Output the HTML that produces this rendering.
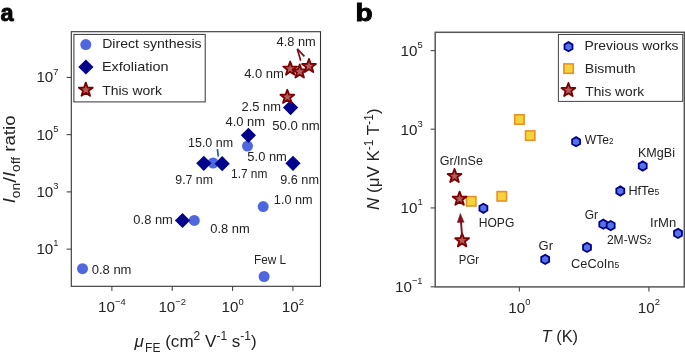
<!DOCTYPE html>
<html><head><meta charset="utf-8"><style>
html,body{margin:0;padding:0;background:#fff;overflow:hidden;}
svg{display:block;font-family:"Liberation Sans",sans-serif;}
</style></head><body>
<svg width="685" height="356" viewBox="0 0 685 356">
<rect width="685" height="356" fill="#fff"/>
<g opacity="0.995"><text transform="translate(0.4,20.8) scale(0.96,1)" font-size="24.5" font-weight="bold" fill="#000" stroke="#000" stroke-width="0.9">a</text>
<text transform="translate(355.4,20.6) scale(1.17,1)" font-size="24" font-weight="bold" fill="#000" stroke="#000" stroke-width="0.9">b</text>
<rect x="71.3" y="31.7" width="249.20" height="254.60" fill="none" stroke="#333" stroke-width="1.1"/>
<line x1="66.7" y1="77.4" x2="71.3" y2="77.4" stroke="#333" stroke-width="1"/>
<text x="58.5" y="82.30" font-size="15.2" text-anchor="end" fill="#222">10<tspan dy="-7.8" font-size="9.4">7</tspan></text>
<line x1="66.7" y1="134.65" x2="71.3" y2="134.65" stroke="#333" stroke-width="1"/>
<text x="58.5" y="139.55" font-size="15.2" text-anchor="end" fill="#222">10<tspan dy="-7.8" font-size="9.4">5</tspan></text>
<line x1="66.7" y1="191.9" x2="71.3" y2="191.9" stroke="#333" stroke-width="1"/>
<text x="58.5" y="196.80" font-size="15.2" text-anchor="end" fill="#222">10<tspan dy="-7.8" font-size="9.4">3</tspan></text>
<line x1="66.7" y1="249.15" x2="71.3" y2="249.15" stroke="#333" stroke-width="1"/>
<text x="58.5" y="254.05" font-size="15.2" text-anchor="end" fill="#222">10<tspan dy="-7.8" font-size="9.4">1</tspan></text>
<line x1="111.9" y1="286.3" x2="111.9" y2="290.90000000000003" stroke="#333" stroke-width="1"/>
<text x="111.9" y="312.4" font-size="15.2" text-anchor="middle" fill="#222">10<tspan dy="-7.8" font-size="9.4">−4</tspan></text>
<line x1="172.2" y1="286.3" x2="172.2" y2="290.90000000000003" stroke="#333" stroke-width="1"/>
<text x="172.2" y="312.4" font-size="15.2" text-anchor="middle" fill="#222">10<tspan dy="-7.8" font-size="9.4">−2</tspan></text>
<line x1="232.6" y1="286.3" x2="232.6" y2="290.90000000000003" stroke="#333" stroke-width="1"/>
<text x="232.6" y="312.4" font-size="15.2" text-anchor="middle" fill="#222">10<tspan dy="-7.8" font-size="9.4">0</tspan></text>
<line x1="292.9" y1="286.3" x2="292.9" y2="290.90000000000003" stroke="#333" stroke-width="1"/>
<text x="292.9" y="312.4" font-size="15.2" text-anchor="middle" fill="#222">10<tspan dy="-7.8" font-size="9.4">2</tspan></text>
<rect x="73.9" y="34.4" width="131.30" height="67.50" fill="#fff" stroke="#333" stroke-width="1"/>
<circle cx="85.8" cy="44.6" r="5.5" fill="#4d66de"/>
<path d="M85.90,59.40 L93.50,67.00 L85.90,74.60 L78.30,67.00 Z" fill="#00008b"/>
<path d="M85.80,82.65 L87.55,87.50 L92.70,87.66 L88.63,90.82 L90.06,95.77 L85.80,92.87 L81.54,95.77 L82.97,90.82 L78.90,87.66 L84.05,87.50 Z" fill="#b45a5a" stroke="#7b0000" stroke-width="1.85" stroke-linejoin="round"/>
<circle cx="82.5" cy="268.7" r="5.5" fill="#4d66de"/>
<circle cx="194.3" cy="220.4" r="5.5" fill="#4d66de"/>
<circle cx="213.1" cy="163.0" r="5.5" fill="#4d66de"/>
<circle cx="247.5" cy="146.1" r="5.5" fill="#4d66de"/>
<circle cx="263.2" cy="206.6" r="5.5" fill="#4d66de"/>
<circle cx="264.1" cy="276.5" r="5.5" fill="#4d66de"/>
<path d="M182.50,212.90 L190.10,220.50 L182.50,228.10 L174.90,220.50 Z" fill="#00008b"/>
<path d="M203.80,155.70 L211.40,163.30 L203.80,170.90 L196.20,163.30 Z" fill="#00008b"/>
<path d="M222.20,156.10 L229.80,163.70 L222.20,171.30 L214.60,163.70 Z" fill="#00008b"/>
<path d="M248.40,127.70 L256.00,135.30 L248.40,142.90 L240.80,135.30 Z" fill="#00008b"/>
<path d="M290.60,100.00 L298.20,107.60 L290.60,115.20 L283.00,107.60 Z" fill="#00008b"/>
<path d="M293.00,155.70 L300.60,163.30 L293.00,170.90 L285.40,163.30 Z" fill="#00008b"/>
<line x1="217.4" y1="149.1" x2="218.3" y2="156.7" stroke="#2a5c9e" stroke-width="1.7"/>
<path d="M287.30,89.75 L289.05,94.60 L294.20,94.76 L290.13,97.92 L291.56,102.87 L287.30,99.97 L283.04,102.87 L284.47,97.92 L280.40,94.76 L285.55,94.60 Z" fill="#b45a5a" stroke="#7b0000" stroke-width="1.85" stroke-linejoin="round"/>
<path d="M290.20,61.55 L291.95,66.40 L297.10,66.56 L293.03,69.72 L294.46,74.67 L290.20,71.77 L285.94,74.67 L287.37,69.72 L283.30,66.56 L288.45,66.40 Z" fill="#b45a5a" stroke="#7b0000" stroke-width="1.85" stroke-linejoin="round"/>
<path d="M299.70,64.45 L301.45,69.30 L306.60,69.46 L302.53,72.62 L303.96,77.57 L299.70,74.67 L295.44,77.57 L296.87,72.62 L292.80,69.46 L297.95,69.30 Z" fill="#b45a5a" stroke="#7b0000" stroke-width="1.85" stroke-linejoin="round"/>
<path d="M309.00,58.95 L310.75,63.80 L315.90,63.96 L311.83,67.12 L313.26,72.07 L309.00,69.17 L304.74,72.07 L306.17,67.12 L302.10,63.96 L307.25,63.80 Z" fill="#b45a5a" stroke="#7b0000" stroke-width="1.85" stroke-linejoin="round"/>
<polyline points="300.7,60.8 297.3,48.9 304.4,56.4" fill="none" stroke="#80101c" stroke-width="1.7"/>
<rect x="435.2" y="32.3" width="249.10" height="254.60" fill="none" stroke="#555" stroke-width="1.5"/>
<line x1="430.59999999999997" y1="50.6" x2="435.2" y2="50.6" stroke="#555" stroke-width="1.2"/>
<text x="422.6" y="55.90" font-size="15.2" text-anchor="end" fill="#222">10<tspan dy="-7.8" font-size="9.4">5</tspan></text>
<line x1="430.59999999999997" y1="129.2" x2="435.2" y2="129.2" stroke="#555" stroke-width="1.2"/>
<text x="422.6" y="134.50" font-size="15.2" text-anchor="end" fill="#222">10<tspan dy="-7.8" font-size="9.4">3</tspan></text>
<line x1="430.59999999999997" y1="207.9" x2="435.2" y2="207.9" stroke="#555" stroke-width="1.2"/>
<text x="422.6" y="213.20" font-size="15.2" text-anchor="end" fill="#222">10<tspan dy="-7.8" font-size="9.4">1</tspan></text>
<line x1="430.59999999999997" y1="286.8" x2="435.2" y2="286.8" stroke="#555" stroke-width="1.2"/>
<text x="422.6" y="292.10" font-size="15.2" text-anchor="end" fill="#222">10<tspan dy="-7.8" font-size="9.4">−1</tspan></text>
<line x1="519.4" y1="286.9" x2="519.4" y2="291.5" stroke="#555" stroke-width="1.2"/>
<text x="519.4" y="312.7" font-size="15.2" text-anchor="middle" fill="#222">10<tspan dy="-7.8" font-size="9.4">0</tspan></text>
<line x1="648.9" y1="286.9" x2="648.9" y2="291.5" stroke="#555" stroke-width="1.2"/>
<text x="648.9" y="312.7" font-size="15.2" text-anchor="middle" fill="#222">10<tspan dy="-7.8" font-size="9.4">2</tspan></text>
<rect x="558.4" y="34.5" width="124.30" height="66.90" fill="#fff" stroke="#444" stroke-width="1"/>
<path d="M568.50,42.10 L572.48,44.40 L572.48,49.00 L568.50,51.30 L564.52,49.00 L564.52,44.40 Z" fill="#5670e6" stroke="#00008a" stroke-width="1.8"/>
<rect x="563.90" y="63.90" width="9.4" height="9.4" fill="#f4d43a" stroke="#ea9026" stroke-width="1.6"/>
<path d="M568.40,82.95 L570.15,87.80 L575.30,87.96 L571.23,91.12 L572.66,96.07 L568.40,93.17 L564.14,96.07 L565.57,91.12 L561.50,87.96 L566.65,87.80 Z" fill="#b45a5a" stroke="#7b0000" stroke-width="1.85" stroke-linejoin="round"/>
<rect x="514.70" y="114.80" width="9.4" height="9.4" fill="#f4d43a" stroke="#ea9026" stroke-width="1.6"/>
<rect x="525.50" y="130.90" width="9.4" height="9.4" fill="#f4d43a" stroke="#ea9026" stroke-width="1.6"/>
<rect x="497.10" y="191.60" width="9.4" height="9.4" fill="#f4d43a" stroke="#ea9026" stroke-width="1.6"/>
<rect x="466.50" y="196.60" width="9.4" height="9.4" fill="#f4d43a" stroke="#ea9026" stroke-width="1.6"/>
<path d="M483.40,203.70 L487.38,206.00 L487.38,210.60 L483.40,212.90 L479.42,210.60 L479.42,206.00 Z" fill="#5670e6" stroke="#00008a" stroke-width="1.8"/>
<path d="M545.20,254.80 L549.18,257.10 L549.18,261.70 L545.20,264.00 L541.22,261.70 L541.22,257.10 Z" fill="#5670e6" stroke="#00008a" stroke-width="1.8"/>
<path d="M576.10,137.10 L580.08,139.40 L580.08,144.00 L576.10,146.30 L572.12,144.00 L572.12,139.40 Z" fill="#5670e6" stroke="#00008a" stroke-width="1.8"/>
<path d="M642.70,161.40 L646.68,163.70 L646.68,168.30 L642.70,170.60 L638.72,168.30 L638.72,163.70 Z" fill="#5670e6" stroke="#00008a" stroke-width="1.8"/>
<path d="M620.30,186.40 L624.28,188.70 L624.28,193.30 L620.30,195.60 L616.32,193.30 L616.32,188.70 Z" fill="#5670e6" stroke="#00008a" stroke-width="1.8"/>
<path d="M603.30,219.60 L607.28,221.90 L607.28,226.50 L603.30,228.80 L599.32,226.50 L599.32,221.90 Z" fill="#5670e6" stroke="#00008a" stroke-width="1.8"/>
<path d="M610.70,221.00 L614.68,223.30 L614.68,227.90 L610.70,230.20 L606.72,227.90 L606.72,223.30 Z" fill="#5670e6" stroke="#00008a" stroke-width="1.8"/>
<path d="M587.00,242.80 L590.98,245.10 L590.98,249.70 L587.00,252.00 L583.02,249.70 L583.02,245.10 Z" fill="#5670e6" stroke="#00008a" stroke-width="1.8"/>
<path d="M678.00,228.80 L681.98,231.10 L681.98,235.70 L678.00,238.00 L674.02,235.70 L674.02,231.10 Z" fill="#5670e6" stroke="#00008a" stroke-width="1.8"/>
<path d="M454.50,168.95 L456.25,173.80 L461.40,173.96 L457.33,177.12 L458.76,182.07 L454.50,179.17 L450.24,182.07 L451.67,177.12 L447.60,173.96 L452.75,173.80 Z" fill="#b45a5a" stroke="#7b0000" stroke-width="1.85" stroke-linejoin="round"/>
<path d="M459.60,191.65 L461.35,196.50 L466.50,196.66 L462.43,199.82 L463.86,204.77 L459.60,201.87 L455.34,204.77 L456.77,199.82 L452.70,196.66 L457.85,196.50 Z" fill="#b45a5a" stroke="#7b0000" stroke-width="1.85" stroke-linejoin="round"/>
<path d="M462.10,233.25 L463.85,238.10 L469.00,238.26 L464.93,241.42 L466.36,246.37 L462.10,243.47 L457.84,246.37 L459.27,241.42 L455.20,238.26 L460.35,238.10 Z" fill="#b45a5a" stroke="#7b0000" stroke-width="1.85" stroke-linejoin="round"/>
<line x1="462.0" y1="235.0" x2="460.9" y2="220.5" stroke="#80101c" stroke-width="1.9"/>
<path d="M460.3,213.4 L464.1,222.2 L457.3,222.5 Z" fill="#80101c" stroke="#80101c" stroke-width="0.5" stroke-linejoin="round"/>
<text transform="translate(102.18,48.2) scale(1.1189,1)" font-size="12.6" fill="#222">Direct synthesis</text>
<text transform="translate(101.95,71.4) scale(1.1467,1)" font-size="12.6" fill="#222">Exfoliation</text>
<text transform="translate(102.22,94.9) scale(1.1084,1)" font-size="12.6" fill="#222">This work</text>
<text transform="translate(276.54,45.7) scale(1.0438,1)" font-size="12.3" fill="#222">4.8 nm</text>
<text transform="translate(244.13,77.9) scale(1.0603,1)" font-size="12.3" fill="#222">4.0 nm</text>
<text transform="translate(241.57,111.0) scale(1.0510,1)" font-size="12.3" fill="#222">2.5 nm</text>
<text transform="translate(225.44,125.7) scale(1.0548,1)" font-size="12.3" fill="#222">4.0 nm</text>
<text transform="translate(272.27,130.3) scale(1.0698,1)" font-size="12.3" fill="#222">50.0 nm</text>
<text transform="translate(188.09,147.3) scale(1.0118,1)" font-size="12.3" fill="#222">15.0 nm</text>
<text transform="translate(247.37,160.7) scale(1.0510,1)" font-size="12.3" fill="#222">5.0 nm</text>
<text transform="translate(175.30,183.5) scale(1.0014,1)" font-size="12.3" fill="#222">9.7 nm</text>
<text transform="translate(231.03,177.8) scale(0.9678,1)" font-size="12.3" fill="#222">1.7 nm</text>
<text transform="translate(280.18,183.7) scale(1.0317,1)" font-size="12.3" fill="#222">9.6 nm</text>
<text transform="translate(273.87,203.9) scale(1.0322,1)" font-size="12.3" fill="#222">1.0 nm</text>
<text transform="translate(133.37,224.2) scale(1.0510,1)" font-size="12.3" fill="#222">0.8 nm</text>
<text transform="translate(210.28,233.1) scale(1.0483,1)" font-size="12.3" fill="#222">0.8 nm</text>
<text transform="translate(254.04,264.0) scale(0.9594,1)" font-size="12.3" fill="#222">Few L</text>
<text transform="translate(91.67,273.8) scale(1.0593,1)" font-size="12.3" fill="#222">0.8 nm</text>
<text transform="translate(584.50,50.3) scale(1.1012,1)" font-size="12.6" fill="#222">Previous works</text>
<text transform="translate(584.78,73.4) scale(1.1177,1)" font-size="12.6" fill="#222">Bismuth</text>
<text transform="translate(585.33,95.7) scale(1.0916,1)" font-size="12.6" fill="#222">This work</text>
<text transform="translate(439.69,164.6) scale(1.0293,1)" font-size="12.2" fill="#222">Gr/InSe</text>
<text transform="translate(478.81,227.3) scale(0.9882,1)" font-size="12.2" fill="#222">HOPG</text>
<text transform="translate(458.87,263.8) scale(0.9317,1)" font-size="12.2" fill="#222">PGr</text>
<text transform="translate(538.57,250.0) scale(1.0667,1)" font-size="12.2" fill="#222">Gr</text>
<text transform="translate(584.71,218.7) scale(0.9804,1)" font-size="12.2" fill="#222">Gr</text>
<text transform="translate(650.06,226.7) scale(1.0742,1)" font-size="12.2" fill="#222">IrMn</text>
<text transform="translate(637.97,156.5) scale(1.0294,1)" font-size="12.2" fill="#222">KMgBi</text>
<text transform="translate(584.75,144.3) scale(0.9912,1)" font-size="12.2" fill="#222">WTe<tspan font-size="8.2">2</tspan></text>
<text transform="translate(628.46,194.8) scale(1.0372,1)" font-size="12.2" fill="#222">HfTe<tspan font-size="8.2">5</tspan></text>
<text transform="translate(606.91,244.0) scale(0.9876,1)" font-size="12.2" fill="#222">2M-WS<tspan font-size="8.2">2</tspan></text>
<text transform="translate(571.11,267.8) scale(1.0480,1)" font-size="12.2" fill="#222">CeCoIn<tspan font-size="8.2">5</tspan></text>
<text transform="translate(134.45,346.7) scale(1.0029,1)" font-size="17.0" fill="#222"><tspan font-style="italic">μ</tspan><tspan dx="1.3" dy="5" font-size="12.0">FE</tspan><tspan dy="-5"> (cm</tspan><tspan dy="-6.5" font-size="12.0">2</tspan><tspan dy="6.5"> V</tspan><tspan dy="-6.5" font-size="12.0">-1</tspan><tspan dy="6.5"> s</tspan><tspan dy="-6.5" font-size="12.0">-1</tspan><tspan dy="6.5">)</tspan></text>
<text transform="translate(541.55,342.3) scale(0.9674,1)" font-size="17.0" fill="#222"><tspan font-style="italic">T</tspan> (K)</text>
<text transform="translate(15.0,203.32) rotate(-90) scale(1.0971,1)" font-size="17.0" fill="#222"><tspan font-style="italic">I</tspan><tspan dy="4.6" font-size="12.5">on</tspan><tspan dy="-3.6" font-size="19">/</tspan><tspan dy="-1" font-style="italic">I</tspan><tspan dy="4.6" font-size="12.5">off</tspan><tspan dy="-4.6"> ratio</tspan></text>
<text transform="translate(379.2,209.90) rotate(-90) scale(0.9985,1)" font-size="17.0" fill="#222"><tspan font-style="italic">N</tspan> (μV K<tspan dy="-6.5" font-size="12.0">-1</tspan><tspan dy="6.5"> T</tspan><tspan dy="-6.5" font-size="12.0">-1</tspan><tspan dy="6.5">)</tspan></text></g>
</svg>
</body></html>
